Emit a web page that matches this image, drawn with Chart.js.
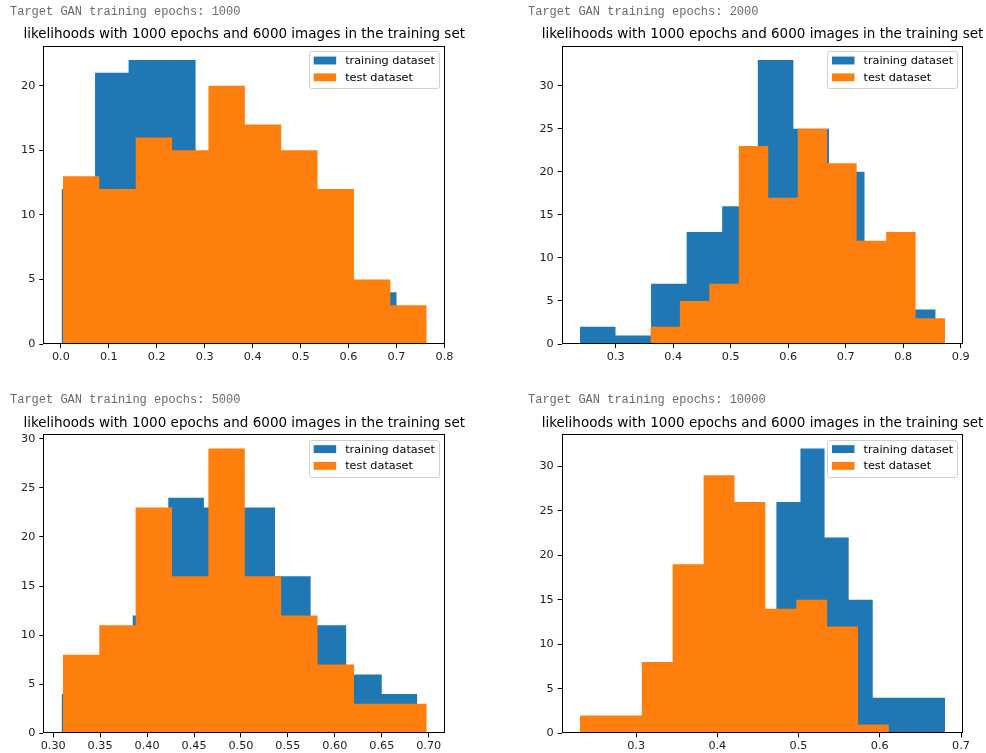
<!DOCTYPE html>
<html>
<head>
<meta charset="utf-8">
<script src="https://cdn.jsdelivr.net/npm/chart.js@4.4.1/dist/chart.umd.min.js"></script>
<style>
  html, body { margin: 0; padding: 0; background: #fff; width: 986px; height: 753px; overflow: hidden; }
  .panel { position: absolute; }
  .panel canvas { display: block; }
  .log { position: absolute; z-index: 2; font-family: "Liberation Mono", "DejaVu Sans Mono", monospace;
         font-size: 12px; line-height: 14px; color: #6a6a6a; white-space: pre; }
  .ttl { position: absolute; z-index: 2; width: 600px; margin-left: -300px; text-align: center;
         font-family: "DejaVu Sans", "Noto Sans", sans-serif; font-size: 13.5px; line-height: 16px;
         color: #000; white-space: pre; }
</style>
</head>
<body>
<div class="log" style="left:10px;top:5px">Target GAN training epochs: 1000</div>
<div class="log" style="left:528px;top:5px">Target GAN training epochs: 2000</div>
<div class="log" style="left:10px;top:393px">Target GAN training epochs: 5000</div>
<div class="log" style="left:528px;top:393px">Target GAN training epochs: 10000</div>

<div class="ttl" id="t1000" style="left:244.2px;top:25px"></div>
<div class="ttl" id="t2000" style="left:762.5px;top:25px"></div>
<div class="ttl" id="t5000" style="left:244.2px;top:414px"></div>
<div class="ttl" id="t10000" style="left:762.5px;top:414px"></div>

<div class="panel" style="left:0;top:0"><canvas id="h1000" width="493" height="380"></canvas></div>
<div class="panel" style="left:493px;top:0"><canvas id="h2000" width="493" height="380"></canvas></div>
<div class="panel" style="left:0;top:380px"><canvas id="h5000" width="493" height="373"></canvas></div>
<div class="panel" style="left:493px;top:380px"><canvas id="h10000" width="493" height="373"></canvas></div>

<script>
// ---- likelihood histograms: bin edges and counts per target-GAN run ----
const TITLE = 'likelihoods with 1000 epochs and 6000 images in the training set';
const TRAIN_LABEL = 'training dataset';
const TEST_LABEL = 'test dataset';

// 1000 epochs
const trainEdges1000 = [0.0014, 0.0713, 0.1412, 0.2111, 0.2810, 0.3510, 0.4209, 0.4908, 0.5607, 0.6306, 0.7005];
const trainCounts1000 = [12, 21, 22, 22, 12, 12, 10, 9, 4, 4];
const testEdges1000 = [0.0042, 0.0801, 0.1560, 0.2319, 0.3078, 0.3837, 0.4595, 0.5354, 0.6113, 0.6872, 0.7631];
const testCounts1000 = [13, 12, 16, 15, 20, 17, 15, 12, 5, 3];
const xTicks1000 = [0.0, 0.1, 0.2, 0.3, 0.4, 0.5, 0.6, 0.7, 0.8];
const yTicks1000 = [0, 5, 10, 15, 20];

// 2000 epochs
const trainEdges2000 = [0.2379, 0.2997, 0.3615, 0.4234, 0.4852, 0.5471, 0.6089, 0.6708, 0.7326, 0.7945, 0.8563];
const trainCounts2000 = [2, 1, 7, 13, 16, 33, 25, 20, 7, 4];
const testEdges2000 = [0.3604, 0.4116, 0.4628, 0.5140, 0.5653, 0.6165, 0.6677, 0.7189, 0.7702, 0.8214, 0.8726];
const testCounts2000 = [2, 5, 7, 23, 17, 25, 21, 12, 13, 3];
const xTicks2000 = [0.3, 0.4, 0.5, 0.6, 0.7, 0.8, 0.9];
const yTicks2000 = [0, 5, 10, 15, 20, 25, 30];

// 5000 epochs
const trainEdges5000 = [0.3089, 0.3468, 0.3847, 0.4226, 0.4605, 0.4984, 0.5363, 0.5742, 0.6121, 0.6500, 0.6879];
const trainCounts5000 = [4, 5, 12, 24, 23, 23, 16, 11, 6, 4];
const testEdges5000 = [0.3103, 0.3491, 0.3878, 0.4266, 0.4653, 0.5041, 0.5428, 0.5816, 0.6204, 0.6591, 0.6979];
const testCounts5000 = [8, 11, 23, 16, 29, 16, 12, 7, 3, 3];
const xTicks5000 = [0.30, 0.35, 0.40, 0.45, 0.50, 0.55, 0.60, 0.65, 0.70];
const yTicks5000 = [0, 5, 10, 15, 20, 25, 30];

// 10000 epochs
const trainEdges10000 = [0.3837, 0.4134, 0.4430, 0.4727, 0.5023, 0.5320, 0.5617, 0.5913, 0.6210, 0.6506, 0.6803];
const trainCounts10000 = [3, 7, 11, 26, 32, 22, 15, 4, 4, 4];
const testEdges10000 = [0.2309, 0.2690, 0.3070, 0.3450, 0.3831, 0.4211, 0.4591, 0.4972, 0.5352, 0.5732, 0.6112];
const testCounts10000 = [2, 2, 8, 19, 29, 26, 14, 15, 12, 1];
const xTicks10000 = [0.3, 0.4, 0.5, 0.6, 0.7];
const yTicks10000 = [0, 5, 10, 15, 20, 25, 30];

const BLUE = '#1f77b4';
const ORANGE = '#ff7f0e';
const FONT = '"DejaVu Sans", "Noto Sans", sans-serif';

['t1000', 't2000', 't5000', 't10000'].forEach(id => { document.getElementById(id).textContent = TITLE; });

// outline of a histogram as a stepped polygon (value of each point holds until the next edge)
function histOutline(edges, counts) {
  const pts = [{ x: edges[0], y: 0 }];
  counts.forEach((c, i) => pts.push({ x: edges[i], y: c }));
  pts.push({ x: edges[edges.length - 1], y: 0 });
  return pts;
}

// full box around the plotting area
const framePlugin = {
  id: 'frame',
  afterDatasetsDraw(chart) {
    const { ctx, chartArea: a } = chart;
    ctx.save();
    ctx.strokeStyle = '#000';
    ctx.lineWidth = 1;
    const l = Math.round(a.left) + 0.5, t = Math.round(a.top) + 0.5;
    const r = Math.round(a.right) - 0.5, b = Math.round(a.bottom) - 0.5;
    ctx.strokeRect(l, t, r - l, b - t);
    ctx.restore();
  }
};

// legend box in the upper-right corner of the plotting area
const cornerLegend = {
  id: 'cornerLegend',
  afterDraw(chart) {
    const { ctx, chartArea: a } = chart;
    const fs = 11.25;
    const pad = 0.4 * fs, handleW = 2 * fs, handleH = 0.7 * fs, gap = 0.8 * fs;
    const rowStep = 16.8, inset = 0.5 * fs;
    const items = chart.data.datasets.map(d => ({ label: d.label, color: d.backgroundColor }));
    ctx.save();
    ctx.font = fs + 'px ' + FONT;
    const textW = Math.max(...items.map(it => ctx.measureText(it.label).width));
    const w = pad * 2 + handleW + gap + textW;
    const h = 37;
    const x = a.right - inset - w;
    const y = a.top + inset;
    ctx.beginPath();
    ctx.roundRect(Math.round(x) + 0.5, Math.round(y) + 0.5, Math.round(w), Math.round(h), 2.5);
    ctx.fillStyle = 'rgba(255,255,255,0.8)';
    ctx.fill();
    ctx.strokeStyle = '#d0d0d0';
    ctx.lineWidth = 1;
    ctx.stroke();
    items.forEach((it, i) => {
      const cy = y + 9.2 + i * rowStep;
      ctx.fillStyle = it.color;
      ctx.fillRect(x + pad, cy - handleH / 2, handleW, handleH);
      ctx.fillStyle = '#000';
      ctx.textBaseline = 'middle';
      ctx.textAlign = 'left';
      ctx.fillText(it.label, x + pad + handleW + gap, cy + 0.5);
    });
    ctx.restore();
  }
};

function drawHistogram(id, cfg) {
  const allEdges = cfg.trainEdges.concat(cfg.testEdges);
  const lo = Math.min(...allEdges), hi = Math.max(...allEdges);
  const span = hi - lo;
  const yMax = 1.05 * Math.max(...cfg.trainCounts, ...cfg.testCounts);
  const Y_W = 40, X_H = 18;
  const tickFont = { family: FONT, size: 11.25 };

  new Chart(document.getElementById(id), {
    type: 'line',
    data: {
      datasets: [
        { label: TRAIN_LABEL, data: histOutline(cfg.trainEdges, cfg.trainCounts), order: 1,
          backgroundColor: BLUE, borderColor: BLUE, borderWidth: 0, fill: 'origin',
          stepped: true, pointRadius: 0, tension: 0 },
        { label: TEST_LABEL, data: histOutline(cfg.testEdges, cfg.testCounts), order: 0,
          backgroundColor: ORANGE, borderColor: ORANGE, borderWidth: 0, fill: 'origin',
          stepped: true, pointRadius: 0, tension: 0 }
      ]
    },
    options: {
      responsive: false,
      animation: false,
      events: [],
      layout: { padding: { left: cfg.left - Y_W, right: cfg.canvasW - cfg.right, top: cfg.top,
                           bottom: cfg.canvasH - cfg.bottom - X_H } },
      plugins: {
        legend: { display: false },
        tooltip: { enabled: false },
        title: { display: false }
      },
      scales: {
        x: {
          type: 'linear', position: 'bottom',
          min: lo - 0.05 * span, max: hi + 0.05 * span,
          afterFit: s => { s.height = X_H; },
          afterBuildTicks: s => { s.ticks = cfg.xTicks.map(v => ({ value: v })); },
          ticks: { callback: v => Number(v).toFixed(cfg.xDec), font: tickFont, color: '#222',
                   padding: 2, maxRotation: 0, autoSkip: false },
          grid: { display: true, drawOnChartArea: false, drawTicks: true, tickLength: 4, color: '#000' },
          border: { display: false }
        },
        y: {
          type: 'linear', position: 'left', min: 0, max: yMax,
          afterFit: s => { s.width = Y_W; },
          afterBuildTicks: s => { s.ticks = cfg.yTicks.map(v => ({ value: v })); },
          ticks: { callback: v => String(v), font: tickFont, color: '#222', padding: 4, autoSkip: false },
          grid: { display: true, drawOnChartArea: false, drawTicks: true, tickLength: 4, color: '#000' },
          border: { display: false }
        }
      }
    },
    plugins: [framePlugin, cornerLegend]
  });
}

drawHistogram('h1000', {
  trainEdges: trainEdges1000, trainCounts: trainCounts1000,
  testEdges: testEdges1000, testCounts: testCounts1000,
  xTicks: xTicks1000, yTicks: yTicks1000, xDec: 1,
  canvasW: 493, canvasH: 380, left: 43.3, right: 445, top: 45.7, bottom: 344
});
drawHistogram('h2000', {
  trainEdges: trainEdges2000, trainCounts: trainCounts2000,
  testEdges: testEdges2000, testCounts: testCounts2000,
  xTicks: xTicks2000, yTicks: yTicks2000, xDec: 1,
  canvasW: 493, canvasH: 380, left: 68.7, right: 470.3, top: 45.7, bottom: 344
});
drawHistogram('h5000', {
  trainEdges: trainEdges5000, trainCounts: trainCounts5000,
  testEdges: testEdges5000, testCounts: testCounts5000,
  xTicks: xTicks5000, yTicks: yTicks5000, xDec: 2,
  canvasW: 493, canvasH: 373, left: 43.3, right: 445, top: 54.3, bottom: 353.3
});
drawHistogram('h10000', {
  trainEdges: trainEdges10000, trainCounts: trainCounts10000,
  testEdges: testEdges10000, testCounts: testCounts10000,
  xTicks: xTicks10000, yTicks: yTicks10000, xDec: 1,
  canvasW: 493, canvasH: 373, left: 68.7, right: 470.3, top: 54.3, bottom: 353.3
});
</script>
</body>
</html>
